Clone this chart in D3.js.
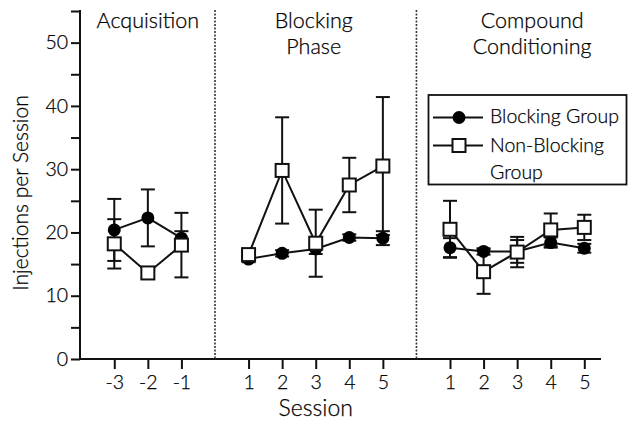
<!DOCTYPE html>
<html>
<head>
<meta charset="utf-8">
<script src="https://cdn.jsdelivr.net/npm/d3@7"></script>
<style>
  body { margin: 0; background: #fff; }
  svg { display: block; }
  text { font-family: "Lato", "Open Sans", sans-serif; font-weight: 300; fill: #000; stroke: #000; stroke-width: 0.25px; }
</style>
</head>
<body>
<svg id="chart" width="629" height="432"></svg>
<script>
// ---- data ----
const phaseNames = ["Acquisition", "Blocking Phase", "Compound Conditioning"];
const phaseSessions = [
  ["-3", "-2", "-1"],
  ["1", "2", "3", "4", "5"],
  ["1", "2", "3", "4", "5"]
];
const seriesNames = ["Blocking Group", "Non-Blocking Group"];
const blockingMeans = [
  [20.4, 22.3, 19.1],
  [15.8, 16.7, 17.4, 19.2, 19.1],
  [17.6, 17.0, 17.0, 18.4, 17.5]
];
const blockingErr = [
  [4.9, 4.5, 1.1],
  [0.5, 0.5, 0.8, 0.5, 1.1],
  [1.5, 0.5, 1.8, 0.8, 0.7]
];
const nonBlockingMeans = [
  [18.2, 13.6, 18.0],
  [16.5, 29.8, 18.3, 27.5, 30.5],
  [20.5, 13.8, 16.9, 20.4, 20.8]
];
const nonBlockingErr = [
  [3.9, 0.8, 5.1],
  [0.5, 8.4, 5.3, 4.3, 10.9],
  [4.5, 3.5, 2.4, 2.6, 2.0]
];
const yTicks = [0, 5, 10, 15, 20, 25, 30, 35, 40, 45, 50, 55];
const yLabelTicks = [0, 10, 20, 30, 40, 50];

// ---- layout ----
const svg = d3.select("#chart");
const mLeft = 80, mRight = 601, mTop = 11, mBottom = 359;

const keys = ["start"];
const sessionKeys = [];
const sepKeys = [];
phaseSessions.forEach((sess, p) => {
  if (p > 0) { keys.push("sep" + p); sepKeys.push("sep" + p); }
  sess.forEach(s => { const k = p + ":" + s; keys.push(k); sessionKeys.push(k); });
});
const x = d3.scalePoint().domain(keys).range([80.7, 584.3]);
const y = d3.scaleLinear().domain([0, 55]).range([mBottom, mTop]);

// ---- axes ----
const yAxis = d3.axisLeft(y).tickValues(yTicks)
  .tickFormat(d => yLabelTicks.includes(d) ? d : "")
  .tickSize(9).tickPadding(3).tickSizeOuter(0);
const gy = svg.append("g").attr("transform", `translate(${mLeft},0)`).call(yAxis);
gy.select(".domain").remove();
gy.selectAll(".tick line").attr("stroke", "#111").attr("stroke-width", 2);
gy.selectAll(".tick text").style("font-size", "19.5px").style("font-family", "Lato").attr("fill", "#000");
svg.append("line").attr("x1", mLeft).attr("x2", mLeft).attr("y1", mTop - 1).attr("y2", mBottom + 1)
  .attr("stroke", "#111").attr("stroke-width", 2);

const labelOf = k => k.split(":")[1];
const xAxis = d3.axisBottom(x).tickValues(sessionKeys).tickFormat(labelOf)
  .tickSize(10).tickPadding(6).tickSizeOuter(0);
const gx = svg.append("g").attr("transform", `translate(0,${mBottom})`).call(xAxis);
gx.select(".domain").remove();
gx.selectAll(".tick line").attr("stroke", "#111").attr("stroke-width", 2);
gx.selectAll(".tick text").style("font-size", "19.5px").style("font-family", "Lato").attr("fill", "#000");
svg.append("line").attr("x1", mLeft - 1).attr("x2", mRight).attr("y1", mBottom).attr("y2", mBottom)
  .attr("stroke", "#111").attr("stroke-width", 2);

// separators
svg.selectAll("line.sep").data(sepKeys).join("line").attr("class", "sep")
  .attr("x1", d => x(d)).attr("x2", d => x(d)).attr("y1", mTop - 1).attr("y2", mBottom)
  .attr("stroke", "#333").attr("stroke-width", 1.6).attr("stroke-dasharray", "2,1.5");

// axis titles
svg.append("text").attr("transform", `translate(28,${(mTop + mBottom) / 2 + 8}) rotate(-90)`)
  .attr("text-anchor", "middle").style("font-size", "21px").text("Injections per Session");
svg.append("text").attr("x", x("1:3")).attr("y", 416).attr("text-anchor", "middle")
  .style("font-size", "23px").text("Session");

// phase titles
const titleX = [x("0:-2"), x("1:3") - 2, x("2:3") + 15];
phaseNames.forEach((name, p) => {
  const words = p === 0 ? [name] : name.split(" ");
  const t = svg.append("text").attr("text-anchor", "middle").style("font-size", "21.5px");
  words.forEach((w, i) => t.append("tspan").attr("x", titleX[p]).attr("y", 28 + i * 26).text(w));
});

// ---- series ----
function seriesPoints(means, errs) {
  const pts = [];
  means.forEach((arr, p) => arr.forEach((v, i) => pts.push({
    phase: p, key: p + ":" + phaseSessions[p][i], v, e: errs[p][i]
  })));
  return pts;
}
const bPts = seriesPoints(blockingMeans, blockingErr);
const nPts = seriesPoints(nonBlockingMeans, nonBlockingErr);

function drawErr(pts) {
  const g = svg.append("g").attr("stroke", "#111").attr("stroke-width", 2);
  pts.forEach(d => {
    const cx = x(d.key);
    g.append("line").attr("x1", cx).attr("x2", cx).attr("y1", y(d.v + d.e)).attr("y2", y(d.v - d.e));
    [d.v + d.e, d.v - d.e].forEach(v => g.append("line")
      .attr("x1", cx - 7).attr("x2", cx + 7).attr("y1", y(v)).attr("y2", y(v)));
  });
}
function drawLines(pts) {
  const line = d3.line().x(d => x(d.key)).y(d => y(d.v));
  const groups = d3.groups(pts, d => d.phase);
  svg.append("g").selectAll("path").data(groups).join("path")
    .attr("d", d => line(d[1])).attr("fill", "none").attr("stroke", "#111").attr("stroke-width", 2);
}
drawErr(nPts);
drawErr(bPts);
drawLines(bPts);
svg.append("g").selectAll("circle").data(bPts).join("circle")
  .attr("cx", d => x(d.key)).attr("cy", d => y(d.v)).attr("r", 6.5).attr("fill", "#000");
drawLines(nPts);
svg.append("g").selectAll("rect").data(nPts).join("rect")
  .attr("x", d => x(d.key) - 6.5).attr("y", d => y(d.v) - 6.5).attr("width", 13).attr("height", 13)
  .attr("fill", "#fff").attr("stroke", "#111").attr("stroke-width", 2);

// ---- legend ----
const lg = svg.append("g");
lg.append("rect").attr("x", 428.5).attr("y", 95).attr("width", 198).attr("height", 89.5)
  .attr("fill", "#fff").attr("stroke", "#111").attr("stroke-width", 1.8);
const legY = [117.5, 145.5];
legY.forEach((ly, i) => {
  lg.append("line").attr("x1", 433).attr("x2", 483).attr("y1", ly).attr("y2", ly)
    .attr("stroke", "#111").attr("stroke-width", 2);
  if (i === 0) lg.append("circle").attr("cx", 459).attr("cy", ly).attr("r", 6.5).attr("fill", "#000");
  else lg.append("rect").attr("x", 452.5).attr("y", ly - 6.5).attr("width", 13).attr("height", 13)
    .attr("fill", "#fff").attr("stroke", "#111").attr("stroke-width", 2);
});
lg.append("text").attr("x", 490).attr("y", 123).style("font-size", "19.5px").text(seriesNames[0]);
const nb = lg.append("text").style("font-size", "19.5px");
const nbWords = ["Non-Blocking", "Group"];
nbWords.forEach((w, i) => nb.append("tspan").attr("x", 490).attr("y", 152 + i * 27).text(w));
</script>
</body>
</html>
